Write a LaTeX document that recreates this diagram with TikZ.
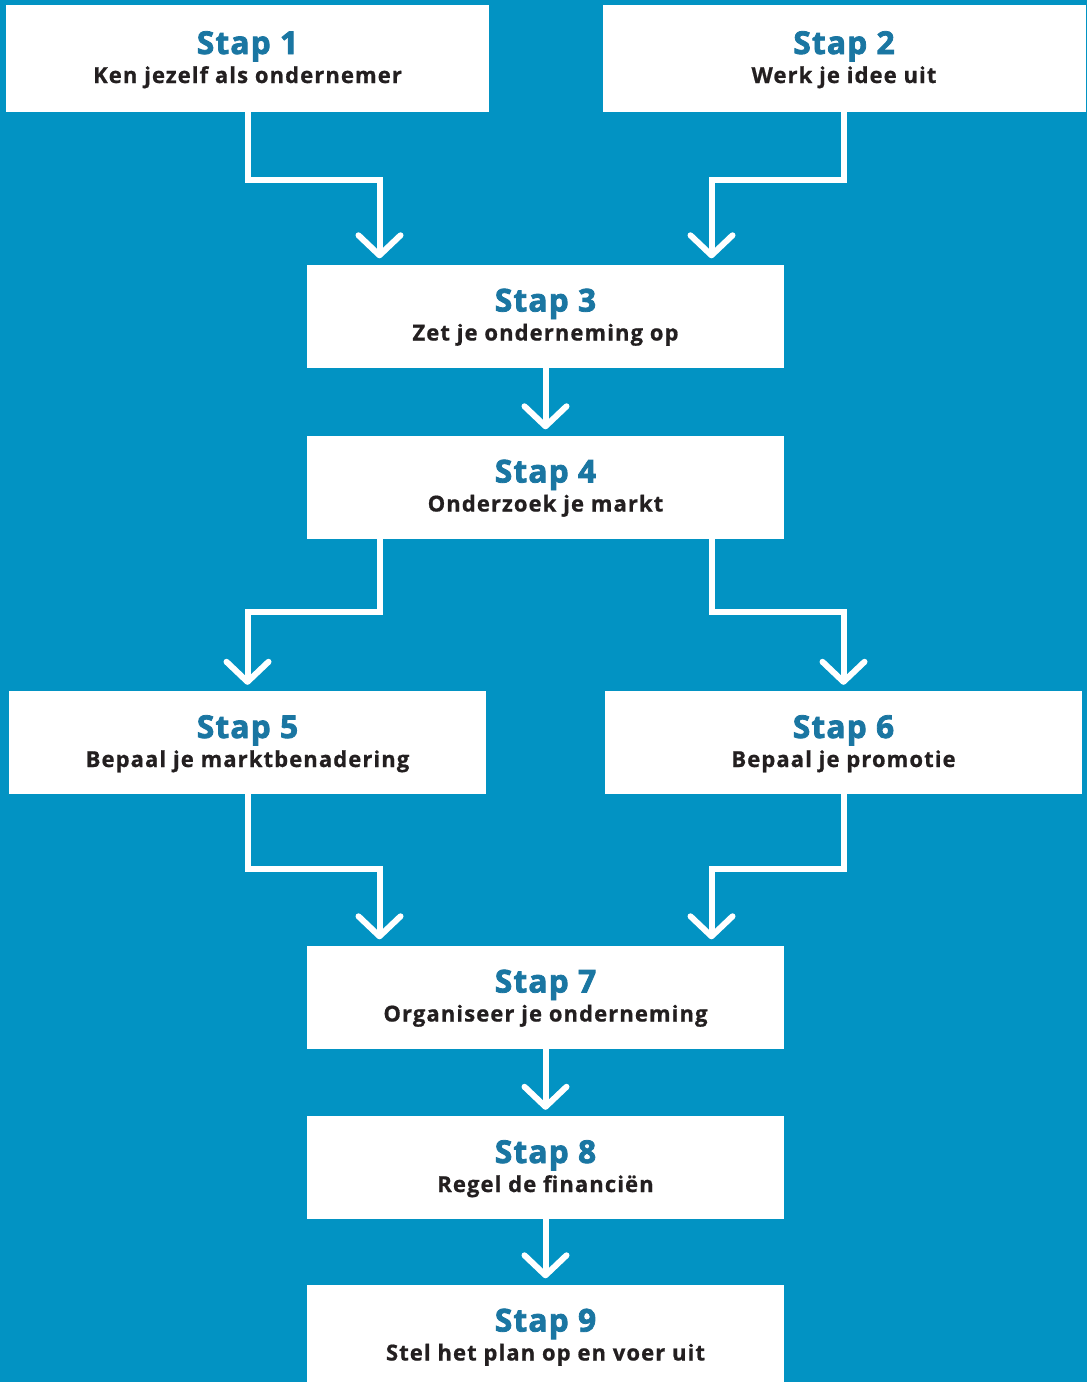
\documentclass[tikz,border=0pt]{standalone}
\usepackage{fontspec}
\setmainfont{Open Sans}[BoldFeatures={FakeBold=0.8, LetterSpace=5}]
\newfontfamily\titlefont{Open Sans}[BoldFeatures={FakeBold=2.6, LetterSpace=4}]
\usetikzlibrary{arrows.meta}
\definecolor{bgblue}{RGB}{2,147,195}
\definecolor{titleblue}{RGB}{26,118,162}
\definecolor{txtdark}{RGB}{35,31,32}
\tikzset{
  bigbox/.style={fill=white, minimum width=483pt, minimum height=107pt, inner sep=0pt},
  stepbox/.style={fill=white, minimum width=477pt, minimum height=103pt, inner sep=0pt},
  titletext/.style={anchor=base, inner sep=0pt, text=titleblue, font=\titlefont\bfseries\fontsize{31.5}{31.5}\selectfont},
  subtext/.style={anchor=base, inner sep=0pt, text=txtdark, font=\bfseries\fontsize{22}{22}\selectfont},
  conn/.style={draw=white, line width=6pt, shorten >=6pt,
    -{Straight Barb[length=20pt, width=42pt, round]}},
}
\newcommand{\stapnode}[3]{%
  \node[titletext] (#1t) at ([yshift=4.5pt]#1.center) {Stap #2};
  \node[subtext] (#1s) at ([yshift=-24.5pt]#1.center) {#3};
}
\begin{document}
\begin{tikzpicture}[x=1pt, y=-1pt]
  \useasboundingbox (0,0) rectangle (1087,1382);
  \clip (0,0) rectangle (1087,1382);
  \fill[bgblue] (0,0) rectangle (1087,1382);
  \node[bigbox] (b1) at (247.5,58.5) {};
  \node[bigbox] (b2) at (844,58.5) {};
  \node[stepbox] (b3) at (545.5,316) {};
  \node[stepbox] (b4) at (545.5,487) {};
  \node[stepbox] (b5) at (247.5,742.5) {};
  \node[stepbox] (b6) at (843.5,742.5) {};
  \node[stepbox] (b7) at (545.5,997) {};
  \node[stepbox] (b8) at (545.5,1167.5) {};
  \node[stepbox] (b9) at (545.5,1336) {};
  \stapnode{b1}{1}{Ken jezelf als ondernemer}
  \stapnode{b2}{2}{Werk je idee uit}
  \stapnode{b3}{3}{Zet je onderneming op}
  \stapnode{b4}{4}{Onderzoek je markt}
  \stapnode{b5}{5}{Bepaal je marktbenadering}
  \stapnode{b6}{6}{Bepaal je promotie}
  \stapnode{b7}{7}{Organiseer je onderneming}
  \stapnode{b8}{8}{Regel de financiën}
  \stapnode{b9}{9}{Stel het plan op en voer uit}
  \draw[conn] (b1.south) -- ++(0,68) -| ([xshift=-166pt]b3.north);
  \draw[conn] (b2.south) -- ++(0,68) -| ([xshift=166pt]b3.north);
  \draw[conn] (b3.south) -- (b4.north);
  \draw[conn] ([xshift=-166pt]b4.south) -- ++(0,73) -| (b5.north);
  \draw[conn] ([xshift=166pt]b4.south) -- ++(0,73) -| (b6.north);
  \draw[conn] (b5.south) -- ++(0,75) -| ([xshift=-166pt]b7.north);
  \draw[conn] (b6.south) -- ++(0,75) -| ([xshift=166pt]b7.north);
  \draw[conn] (b7.south) -- (b8.north);
  \draw[conn] (b8.south) -- (b9.north);
\end{tikzpicture}
\end{document}
